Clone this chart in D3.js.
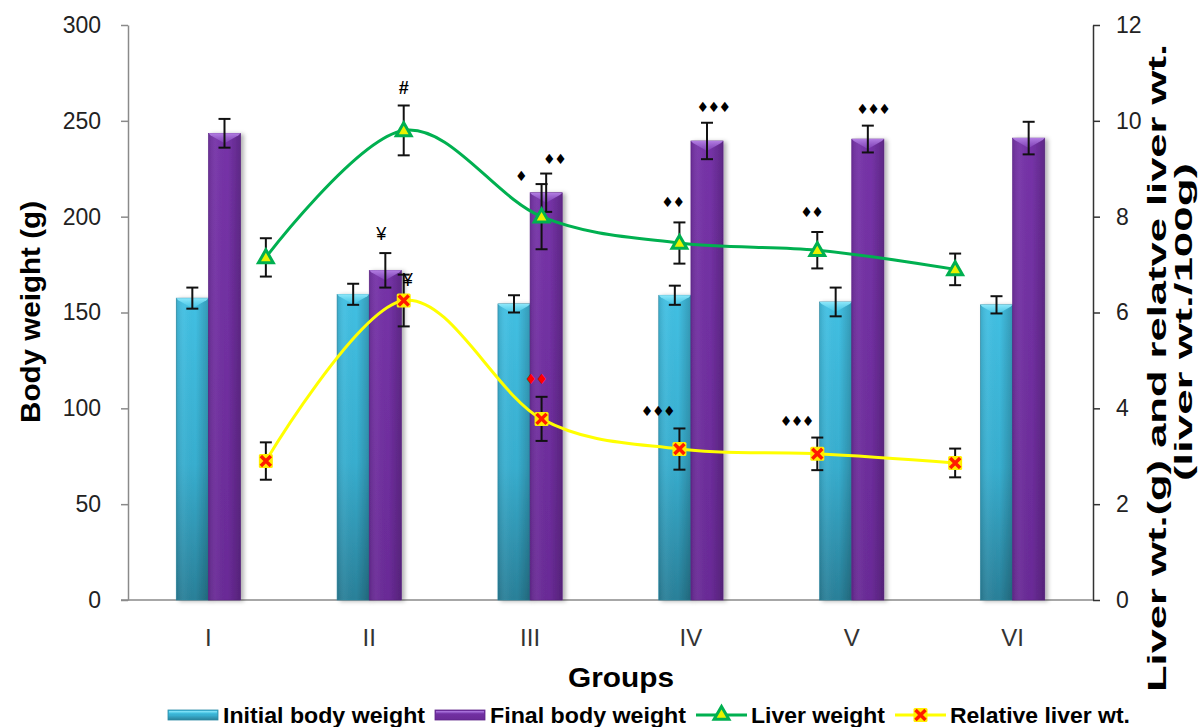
<!DOCTYPE html>
<html>
<head>
<meta charset="utf-8">
<script src="https://cdn.jsdelivr.net/npm/d3@7"></script>
<style>
  body { margin: 0; background: #fff; }
  svg { display: block; font-family: "Liberation Sans", Arial, sans-serif; }
</style>
</head>
<body>
<svg id="chart" width="1199" height="727"></svg>
<script>
// ---- data ----
const groups = ["I", "II", "III", "IV", "V", "VI"];

const initialBW = [157.5, 159.5, 154.5, 159, 155.5, 154];   // g
const initialSE = [5.5, 5.5, 4.5, 5, 7.5, 4.5];
const finalBW   = [243.5, 172, 212.5, 239.5, 240.5, 241];   // g
const finalSE   = [7.5, 9, 10, 9.5, 7, 8.5];

const liverWt   = [7.15, 9.8, 8.0, 7.45, 7.3, 6.9];         // g
const liverSE   = [0.4, 0.52, 0.68, 0.43, 0.38, 0.33];
const relLiver  = [2.9, 6.25, 3.78, 3.15, 3.05, 2.86];      // g / 100 g
const relSE     = [0.39, 0.54, 0.46, 0.43, 0.34, 0.3];

const leftTicks  = [0, 50, 100, 150, 200, 250, 300];
const rightTicks = [0, 2, 4, 6, 8, 10, 12];

// significance marks: attached to the top of a series' error bar
const marks = [
  { group: "II",  series: "liver", text: "#",   dx: 0,   dy: -18 },
  { group: "II",  series: "final", text: "¥",   dx: -4,  dy: -19 },
  { group: "II",  series: "rel",   text: "¥",   dx: 4,   dy: 5 },
  { group: "III", series: "liver", text: "♦",   dx: -21, dy: -8 },
  { group: "III", series: "final", text: "♦♦",  dx: 8,   dy: -15 },
  { group: "III", series: "rel",   text: "♦♦",  dx: -6,  dy: -18, color: "#ff0000" },
  { group: "IV",  series: "liver", text: "♦♦",  dx: -7,  dy: -20 },
  { group: "IV",  series: "final", text: "♦♦♦", dx: 6,   dy: -16 },
  { group: "IV",  series: "rel",   text: "♦♦♦", dx: -22, dy: -17 },
  { group: "V",   series: "liver", text: "♦♦",  dx: -6,  dy: -20 },
  { group: "V",   series: "final", text: "♦♦♦", dx: 5,   dy: -17 },
  { group: "V",   series: "rel",   text: "♦♦♦", dx: -21, dy: -17 }
];

const legendLabels = ["Initial body weight", "Final body weight", "Liver weight", "Relative liver wt."];

// ---- layout ----
const plot = { left: 128, right: 1093, top: 25, bottom: 600 };
const svg = d3.select("#chart");
const defs = svg.append("defs");

const yL = d3.scaleLinear().domain([0, 300]).range([plot.bottom, plot.top]);
const yR = d3.scaleLinear().domain([0, 12]).range([plot.bottom, plot.top]);
const x0 = d3.scaleBand().domain(groups).range([plot.left, plot.right])
  .paddingInner(0.6).paddingOuter(0.3);
const x1 = d3.scaleBand().domain(["initial", "final"]).range([0, x0.bandwidth()]);
const xL = d3.scalePoint().domain(groups).range([plot.left, plot.right]).padding(1);

// ---- paint definitions ----
function grad(id, horizontal, stops) {
  const g = defs.append("linearGradient").attr("id", id)
    .attr("x1", 0).attr("y1", 0)
    .attr("x2", horizontal ? 1 : 0).attr("y2", horizontal ? 0 : 1);
  stops.forEach(([o, c, a]) => g.append("stop").attr("offset", o)
    .attr("stop-color", c).attr("stop-opacity", a === undefined ? 1 : a));
}
grad("cyanFill", false, [[0, "#42c0e3"], [0.55, "#38aecf"], [1, "#2a8099"]]);
grad("purpleFill", false, [[0, "#7633a8"], [1, "#6a2b97"]]);
grad("shade", true, [[0, "#000", 0.12], [0.25, "#fff", 0.04], [0.6, "#000", 0], [1, "#000", 0.2]]);
grad("cyanCap", false, [[0, "#8ee8fb"], [1, "#4ccbe9", 0.6]]);
grad("purpleCap", false, [[0, "#b37ee3"], [1, "#8a4fc2", 0.6]]);

const shadow = defs.append("filter").attr("id", "barShadow")
  .attr("x", "-20%").attr("y", "-5%").attr("width", "150%").attr("height", "110%");
shadow.append("feDropShadow").attr("dx", 3).attr("dy", 1)
  .attr("stdDeviation", 2).attr("flood-color", "#000").attr("flood-opacity", 0.3);

const barStyle = {
  initial: { fill: "url(#cyanFill)", cap: "url(#cyanCap)", edge: "#2b8aa5" },
  final:   { fill: "url(#purpleFill)", cap: "url(#purpleCap)", edge: "#5e2488" }
};

// draws one shaded bar with a bevelled top
function drawBar(g, x, y, w, h, key) {
  const s = barStyle[key];
  const bar = g.append("g").attr("filter", "url(#barShadow)");
  bar.append("rect").attr("x", x).attr("y", y).attr("width", w).attr("height", h)
    .attr("fill", s.fill).attr("stroke", s.edge).attr("stroke-width", 0.6);
  bar.append("rect").attr("x", x).attr("y", y).attr("width", w).attr("height", h)
    .attr("fill", "url(#shade)");
  const d = Math.min(10, h);
  bar.append("path")
    .attr("d", `M${x},${y} L${x + w},${y} L${x + w - 2},${y + 2} L${x + w / 2},${y + d} L${x + 2},${y + 2} Z`)
    .attr("fill", s.cap);
}

function drawErr(g, x, yTop, yBot, capW) {
  g.append("line").attr("x1", x).attr("x2", x).attr("y1", yTop).attr("y2", yBot);
  g.append("line").attr("x1", x - capW / 2).attr("x2", x + capW / 2).attr("y1", yTop).attr("y2", yTop);
  g.append("line").attr("x1", x - capW / 2).attr("x2", x + capW / 2).attr("y1", yBot).attr("y2", yBot);
}

// ---- axes ----
const axisFont = 23;

const leftAxis = svg.append("g").attr("transform", `translate(${plot.left},0)`)
  .call(d3.axisLeft(yL).tickValues(leftTicks).tickSize(7).tickPadding(20).tickSizeOuter(0));
leftAxis.select(".domain").attr("stroke", "#8a8a8a").attr("stroke-width", 1.5);
leftAxis.selectAll(".tick line").attr("stroke", "#8a8a8a").attr("stroke-width", 1.5);
leftAxis.selectAll(".tick text").attr("font-size", axisFont).attr("fill", "#222")
  .attr("font-family", "Liberation Sans, Arial, sans-serif");

const rightAxis = svg.append("g").attr("transform", `translate(${plot.right},0)`)
  .call(d3.axisRight(yR).tickValues(rightTicks).tickSize(7).tickPadding(16).tickSizeOuter(0));
rightAxis.select(".domain").attr("stroke", "#333").attr("stroke-width", 1.5);
rightAxis.selectAll(".tick line").attr("stroke", "#333").attr("stroke-width", 1.5);
rightAxis.selectAll(".tick text").attr("font-size", axisFont).attr("fill", "#222")
  .attr("font-family", "Liberation Sans, Arial, sans-serif");

// category axis
svg.append("line").attr("x1", plot.left - 7).attr("x2", plot.right)
  .attr("y1", plot.bottom).attr("y2", plot.bottom)
  .attr("stroke", "#8a8a8a").attr("stroke-width", 1.5);
svg.append("g").selectAll("text").data(groups).join("text")
  .attr("x", d => x0(d) + x0.bandwidth() / 2)
  .attr("y", 646)
  .attr("text-anchor", "middle")
  .attr("font-size", 24).attr("fill", "#333")
  .text(d => d);

// axis titles
svg.append("text")
  .attr("transform", "translate(40,312) rotate(-90)")
  .attr("text-anchor", "middle").attr("font-weight", "bold").attr("font-size", 27)
  .attr("textLength", 222).attr("lengthAdjust", "spacingAndGlyphs")
  .text("Body weight (g)");

svg.append("text")
  .attr("transform", "translate(1166,368) rotate(-90)")
  .attr("text-anchor", "middle").attr("font-weight", "bold").attr("font-size", 26)
  .attr("textLength", 648).attr("lengthAdjust", "spacingAndGlyphs")
  .text("Liver wt.(g) and relatve liver wt.");

svg.append("text")
  .attr("transform", "translate(1192,322) rotate(-90)")
  .attr("text-anchor", "middle").attr("font-weight", "bold").attr("font-size", 24)
  .attr("textLength", 318).attr("lengthAdjust", "spacingAndGlyphs")
  .text("(liver wt./100g)");

svg.append("text")
  .attr("x", 621).attr("y", 687)
  .attr("text-anchor", "middle").attr("font-weight", "bold").attr("font-size", 28)
  .attr("textLength", 106).attr("lengthAdjust", "spacingAndGlyphs")
  .text("Groups");

// ---- bars ----
const barG = svg.append("g");
const barErrG = svg.append("g").attr("stroke", "#111").attr("stroke-width", 2);
groups.forEach((grp, i) => {
  [["initial", initialBW[i], initialSE[i]], ["final", finalBW[i], finalSE[i]]].forEach(([key, v, se]) => {
    const bx = x0(grp) + x1(key);
    const w = x1.bandwidth();
    drawBar(barG, bx, yL(v), w, yL(0) - yL(v), key);
    drawErr(barErrG, bx + w / 2, yL(v + se), yL(v - se), 12);
  });
});

// ---- smoothed lines (secondary axis) ----
const lineGen = d3.line()
  .x((d, i) => xL(groups[i]))
  .y(d => yR(d))
  .curve(d3.curveCardinal.tension(0));

svg.append("path").datum(liverWt).attr("d", lineGen)
  .attr("fill", "none").attr("stroke", "#00b050").attr("stroke-width", 3);
svg.append("path").datum(relLiver).attr("d", lineGen)
  .attr("fill", "none").attr("stroke", "#ffff00").attr("stroke-width", 3);

const lineErrG = svg.append("g").attr("stroke", "#111").attr("stroke-width", 2);
groups.forEach((grp, i) => {
  drawErr(lineErrG, xL(grp), yR(liverWt[i] + liverSE[i]), yR(liverWt[i] - liverSE[i]), 12);
  drawErr(lineErrG, xL(grp), yR(relLiver[i] + relSE[i]), yR(relLiver[i] - relSE[i]), 12);
});

// markers
function triMarker(g, x, y) {
  g.append("path")
    .attr("transform", `translate(${x},${y + 1})`)
    .attr("d", d3.symbol(d3.symbolTriangle, 95)())
    .attr("fill", "#e8f200").attr("stroke", "#00b050").attr("stroke-width", 3)
    .attr("stroke-linejoin", "miter");
}
function xMarker(g, x, y) {
  const s = 7;
  g.append("rect").attr("x", x - s).attr("y", y - s).attr("width", 2 * s).attr("height", 2 * s)
    .attr("fill", "#ffee00").attr("rx", 1.5);
  g.append("path")
    .attr("d", `M${x - s + 2},${y - s + 2} L${x + s - 2},${y + s - 2} M${x + s - 2},${y - s + 2} L${x - s + 2},${y + s - 2}`)
    .attr("stroke", "#ff1a00").attr("stroke-width", 3.5);
}
const markG = svg.append("g");
groups.forEach((grp, i) => {
  triMarker(markG, xL(grp), yR(liverWt[i]));
  xMarker(markG, xL(grp), yR(relLiver[i]));
});

// ---- significance symbols ----
function errTop(series, i) {
  if (series === "liver") return { x: xL(groups[i]), y: yR(liverWt[i] + liverSE[i]) };
  if (series === "rel") return { x: xL(groups[i]), y: yR(relLiver[i] + relSE[i]) };
  return {
    x: x0(groups[i]) + x1("final") + x1.bandwidth() / 2,
    y: yL(finalBW[i] + finalSE[i])
  };
}
svg.append("g").selectAll("text").data(marks).join("text")
  .each(function (d) {
    const p = errTop(d.series, groups.indexOf(d.group));
    const isDiamond = d.text.indexOf("♦") >= 0;
    d3.select(this)
      .attr("x", p.x + d.dx).attr("y", p.y + d.dy)
      .attr("text-anchor", "middle").attr("dominant-baseline", "central")
      .attr("font-family", isDiamond ? "DejaVu Sans, sans-serif" : "Liberation Sans, Arial, sans-serif")
      .attr("font-size", isDiamond ? 14 : 18)
      .attr("letter-spacing", isDiamond ? -1.5 : 0)
      .attr("font-weight", d.text === "#" ? "bold" : "normal")
      .attr("fill", d.color || "#000")
      .text(d.text);
  });

// ---- legend ----
const legendTextW = [202, 196, 134, 180];
const legend = svg.append("g");
let lx = 168;
const ly = 715;
legendLabels.forEach((label, i) => {
  if (i < 2) {
    const key = i === 0 ? "initial" : "final";
    const s = barStyle[key];
    legend.append("rect").attr("x", lx).attr("y", ly - 5).attr("width", 50).attr("height", 10)
      .attr("fill", s.fill).attr("stroke", s.edge).attr("stroke-width", 0.8);
    legend.append("rect").attr("x", lx + 1).attr("y", ly - 4).attr("width", 48).attr("height", 2.5)
      .attr("fill", s.cap);
  } else {
    legend.append("line").attr("x1", lx).attr("x2", lx + 51).attr("y1", ly).attr("y2", ly)
      .attr("stroke", i === 2 ? "#00b050" : "#ffff00").attr("stroke-width", 3);
    if (i === 2) triMarker(legend, lx + 25.5, ly - 1);
    else xMarker(legend, lx + 25.5, ly);
  }
  lx += 55;
  legend.append("text").attr("x", lx).attr("y", ly + 8)
    .attr("font-weight", "bold").attr("font-size", 22).attr("fill", "#000")
    .attr("textLength", legendTextW[i]).attr("lengthAdjust", "spacingAndGlyphs")
    .text(label);
  lx += legendTextW[i] + 10;
});
</script>
</body>
</html>
